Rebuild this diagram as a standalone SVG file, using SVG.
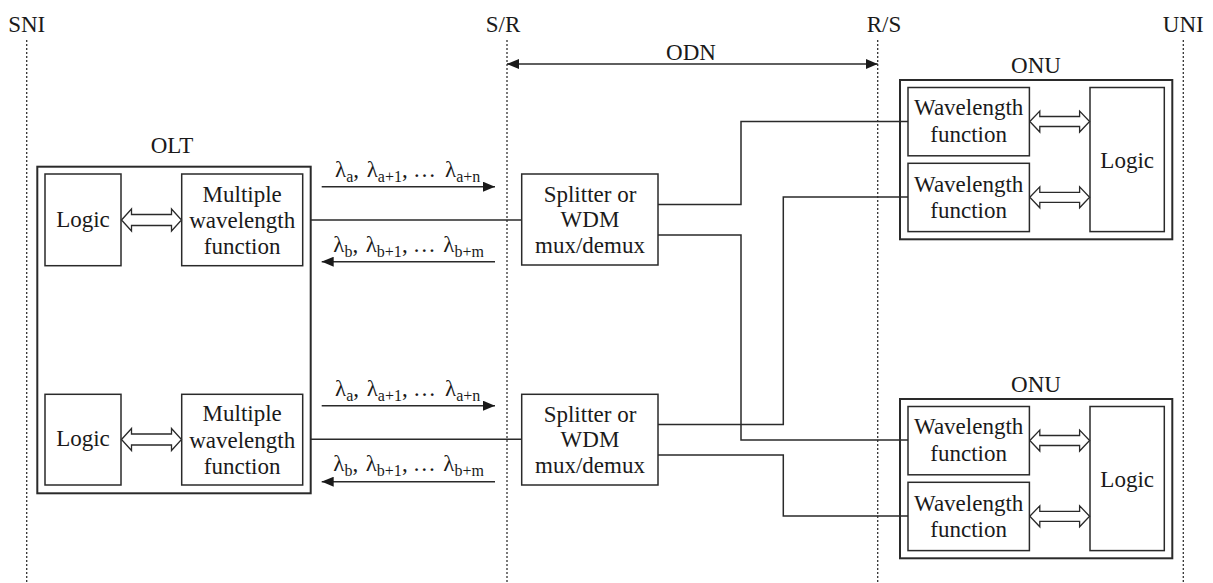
<svg xmlns="http://www.w3.org/2000/svg" width="1213" height="583" viewBox="0 0 1213 583" font-family="'Liberation Serif', serif">
<style>
text{font-family:'Liberation Serif','Times New Roman',serif;font-size:23px;fill:#1a1a1a}
.m{text-anchor:middle}
.s{font-size:16px}
.box{fill:#fff;stroke:#2a2a2a;stroke-width:1.5}
.outer{fill:none;stroke:#2a2a2a;stroke-width:2}
.dot{stroke:#333;stroke-width:1.3;stroke-dasharray:2,2;fill:none}
.ln{fill:none;stroke:#2a2a2a;stroke-width:1.5}
.ha{fill:#fff;stroke:#2a2a2a;stroke-width:1.3}
</style>
<defs>
<marker id="ah" viewBox="0 0 12 10" refX="12" refY="5" markerWidth="12" markerHeight="10" markerUnits="userSpaceOnUse" orient="auto-start-reverse">
<path d="M0,0 L12,5 L0,10 z" fill="#1a1a1a"/>
</marker>
</defs>

<g id="reference-lines">
<line class="dot" x1="26.7" y1="40" x2="26.7" y2="583"/>
<line class="dot" x1="507" y1="40" x2="507" y2="583"/>
<line class="dot" x1="877.7" y1="40" x2="877.7" y2="583"/>
<line class="dot" x1="1183.3" y1="40" x2="1183.3" y2="583"/>
<text class="m" x="26.7" y="32">SNI</text>
<text class="m" x="503" y="32">S/R</text>
<text class="m" x="884" y="32">R/S</text>
<text class="m" x="1183.3" y="32">UNI</text>
</g>

<g id="olt">
<text class="m" x="172" y="153">OLT</text>
<rect class="outer" x="37.3" y="166.7" width="273.4" height="326.6"/>
</g>

<g id="olt-logic-1">
<rect class="box" x="45" y="174" width="76" height="91.7"/>
<text class="m" x="83" y="226.7">Logic</text>
</g>
<g id="olt-mwf-1">
<rect class="box" x="181.7" y="174" width="121" height="91.7"/>
<text class="m" x="242.2" y="202">Multiple</text>
<text class="m" x="242.2" y="228">wavelength</text>
<text class="m" x="242.2" y="253.5">function</text>
</g>
<g id="olt-logic-2">
<rect class="box" x="45" y="394.3" width="76" height="90.7"/>
<text class="m" x="83" y="446">Logic</text>
</g>
<g id="olt-mwf-2">
<rect class="box" x="181.7" y="394.3" width="121" height="90.7"/>
<text class="m" x="242.2" y="421">Multiple</text>
<text class="m" x="242.2" y="447.5">wavelength</text>
<text class="m" x="242.2" y="474">function</text>
</g>

<g id="splitter-1">
<rect class="box" x="521.7" y="174" width="136.3" height="91"/>
<text class="m" x="590" y="201.5">Splitter or</text>
<text class="m" x="590" y="227">WDM</text>
<text class="m" x="590" y="253.3">mux/demux</text>
</g>
<g id="splitter-2">
<rect class="box" x="521.7" y="394.3" width="136.3" height="90.7"/>
<text class="m" x="590" y="421.5">Splitter or</text>
<text class="m" x="590" y="447">WDM</text>
<text class="m" x="590" y="473.3">mux/demux</text>
</g>

<g id="onu-1">
<text class="m" x="1036" y="73.3">ONU</text>
<rect class="outer" x="900" y="80" width="272.3" height="159.3"/>
</g>
<g id="onu-1-wf-1">
<rect class="box" x="908" y="87.5" width="121.4" height="68.3"/>
<text class="m" x="968.7" y="115">Wavelength</text>
<text class="m" x="968.7" y="141.7">function</text>
</g>
<g id="onu-1-wf-2">
<rect class="box" x="908" y="163.3" width="121.4" height="68.3"/>
<text class="m" x="968.7" y="191.7">Wavelength</text>
<text class="m" x="968.7" y="218.3">function</text>
</g>
<g id="onu-1-logic">
<rect class="box" x="1090" y="87.5" width="74.3" height="144.1"/>
<text class="m" x="1127.2" y="168.3">Logic</text>
</g>

<g id="onu-2">
<text class="m" x="1036" y="392">ONU</text>
<rect class="outer" x="900" y="399" width="272.3" height="159.3"/>
</g>
<g id="onu-2-wf-1">
<rect class="box" x="908" y="406.5" width="121.4" height="68.3"/>
<text class="m" x="968.7" y="434">Wavelength</text>
<text class="m" x="968.7" y="460.7">function</text>
</g>
<g id="onu-2-wf-2">
<rect class="box" x="908" y="482.3" width="121.4" height="68.3"/>
<text class="m" x="968.7" y="510.7">Wavelength</text>
<text class="m" x="968.7" y="537.3">function</text>
</g>
<g id="onu-2-logic">
<rect class="box" x="1090" y="406.5" width="74.3" height="144.1"/>
<text class="m" x="1127.2" y="487.3">Logic</text>
</g>

<g id="connectors">
<line class="ln" x1="507" y1="64" x2="877.7" y2="64" marker-start="url(#ah)" marker-end="url(#ah)"/>
<text class="m" x="691" y="60">ODN</text>
<polyline class="ln" points="310.7,220 521.7,220"/>
<polyline class="ln" points="310.7,439.3 521.7,439.3"/>
<polyline class="ln" points="658,204.5 741,204.5 741,121.5 908,121.5"/>
<polyline class="ln" points="658,235 741,235 741,440 908,440"/>
<polyline class="ln" points="658,424.5 783.3,424.5 783.3,197 908,197"/>
<polyline class="ln" points="658,455 783.3,455 783.3,516 908,516"/>
<line class="ln" x1="321.7" y1="186.7" x2="495" y2="186.7" marker-end="url(#ah)"/>
<line class="ln" x1="495" y1="261.7" x2="321.7" y2="261.7" marker-end="url(#ah)"/>
<line class="ln" x1="321.7" y1="405.7" x2="495" y2="405.7" marker-end="url(#ah)"/>
<line class="ln" x1="495" y1="481.7" x2="321.7" y2="481.7" marker-end="url(#ah)"/>
<text y="176.7"><tspan x="335">λ</tspan><tspan class="s" dy="5">a</tspan><tspan dy="-5">,</tspan><tspan x="366.7">λ</tspan><tspan class="s" dy="5">a+1</tspan><tspan dy="-5">,</tspan><tspan x="413">…</tspan><tspan x="445">λ</tspan><tspan class="s" dy="5">a+n</tspan></text>
<text y="251.7"><tspan x="333.3">λ</tspan><tspan class="s" dy="5">b</tspan><tspan dy="-5">,</tspan><tspan x="365.7">λ</tspan><tspan class="s" dy="5">b+1</tspan><tspan dy="-5">,</tspan><tspan x="412.7">…</tspan><tspan x="443.3">λ</tspan><tspan class="s" dy="5">b+m</tspan></text>
<text y="395.7"><tspan x="335">λ</tspan><tspan class="s" dy="5">a</tspan><tspan dy="-5">,</tspan><tspan x="366.7">λ</tspan><tspan class="s" dy="5">a+1</tspan><tspan dy="-5">,</tspan><tspan x="413">…</tspan><tspan x="445">λ</tspan><tspan class="s" dy="5">a+n</tspan></text>
<text y="470.7"><tspan x="333.3">λ</tspan><tspan class="s" dy="5">b</tspan><tspan dy="-5">,</tspan><tspan x="365.7">λ</tspan><tspan class="s" dy="5">b+1</tspan><tspan dy="-5">,</tspan><tspan x="412.7">…</tspan><tspan x="443.3">λ</tspan><tspan class="s" dy="5">b+m</tspan></text>
<polygon class="ha" points="121.5,220 131.5,209 131.5,214.5 171.5,214.5 171.5,209 181.5,220 171.5,231 171.5,225.5 131.5,225.5 131.5,231"/>
<polygon class="ha" points="121.5,439.5 131.5,428.5 131.5,434 171.5,434 171.5,428.5 181.5,439.5 171.5,450.5 171.5,445 131.5,445 131.5,450.5"/>
<polygon class="ha" points="1029.8,121.5 1039.8,111 1039.8,116.5 1079.6,116.5 1079.6,111 1089.6,121.5 1079.6,132 1079.6,126.5 1039.8,126.5 1039.8,132"/>
<polygon class="ha" points="1029.8,197.3 1039.8,186.8 1039.8,192.3 1079.6,192.3 1079.6,186.8 1089.6,197.3 1079.6,207.8 1079.6,202.3 1039.8,202.3 1039.8,207.8"/>
<polygon class="ha" points="1029.8,440.5 1039.8,430 1039.8,435.5 1079.6,435.5 1079.6,430 1089.6,440.5 1079.6,451 1079.6,445.5 1039.8,445.5 1039.8,451"/>
<polygon class="ha" points="1029.8,516.3 1039.8,505.8 1039.8,511.3 1079.6,511.3 1079.6,505.8 1089.6,516.3 1079.6,526.8 1079.6,521.3 1039.8,521.3 1039.8,526.8"/>
</g>
</svg>
